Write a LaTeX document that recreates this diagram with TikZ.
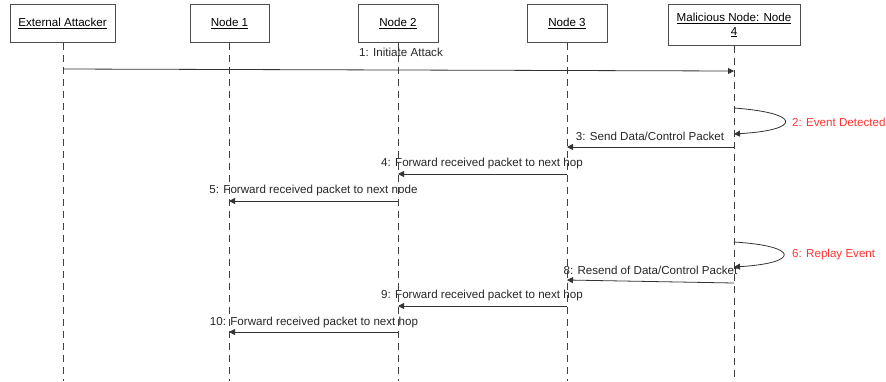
\documentclass[tikz,border=0pt]{standalone}
\usepackage{fontspec}
\setmainfont{Liberation Sans}
\usetikzlibrary{arrows.meta}
\begin{document}
\begin{tikzpicture}[x=1pt,y=-1pt,
  font=\fontsize{11.6}{13}\selectfont,
  actor/.style={draw=black!70,line width=0.8pt,fill=white,inner sep=0pt,align=center},
  life/.style={draw=black!75,line width=0.8pt,dash pattern=on 7pt off 5pt},
  msg/.style={draw=black!80,line width=0.8pt,-{Triangle[length=6pt,width=6pt]}},
  lbl/.style={text=black!85,inner sep=0pt},
  evt/.style={text=red!80!white,inner sep=0pt,anchor=west}]
\useasboundingbox (0,0) rectangle (886,381);
% actors
\node[actor,minimum width=105pt,minimum height=38pt] (ea) at (62.5,23.5) {\underline{External Attacker}};
\node[actor,minimum width=79pt,minimum height=38pt] (n1) at (229.5,23.5) {\underline{Node 1}};
\node[actor,minimum width=80pt,minimum height=38pt] (n2) at (398,23.5) {\underline{Node 2}};
\node[actor,minimum width=80pt,minimum height=38pt] (n3) at (567,23.5) {\underline{Node 3}};
\node[actor,minimum width=132pt,minimum height=41pt] (m4) at (734,25) {\underline{Malicious Node: Node}\\[1pt]\underline{4}};
% lifeline ends
\coordinate (eaE) at (63,381);
\coordinate (n1E) at (229,381);
\coordinate (n2E) at (398,381);
\coordinate (n3E) at (567,381);
\coordinate (m4E) at (734,381);
\draw[life] (ea.south -| eaE) -- (eaE);
\draw[life] (n1.south -| n1E) -- (n1E);
\draw[life] (n2.south -| n2E) -- (n2E);
\draw[life] (n3.south -| n3E) -- (n3E);
\draw[life] (m4.south -| m4E) -- (m4E);
% message points
\coordinate (a1) at (63,69);   \coordinate (b1) at (734,71);
\coordinate (a2) at (734,108); \coordinate (b2) at (734,134);
\coordinate (a3) at (734,147); \coordinate (b3) at (567,147);
\coordinate (a4) at (567,174); \coordinate (b4) at (398,174);
\coordinate (a5) at (398,201); \coordinate (b5) at (229,201);
\coordinate (a6) at (734,242); \coordinate (b6) at (734,267);
\coordinate (a8) at (734,283); \coordinate (b8) at (567,280);
\coordinate (a9) at (567,306); \coordinate (b9) at (398,306);
\coordinate (a10) at (398,332); \coordinate (b10) at (229,332);
% messages
\draw[msg] (a1) -- (b1);
\node[lbl] (l1) at (401,52) {1: Initiate Attack};
\draw[msg] (a2) .. controls (802,113) and (802,130) .. (b2);
\node[evt] (l2) at (792,122) {2: Event Detected};
\draw[msg] (a3) -- (b3);
\node[lbl] (l3) at (650,136) {3: Send Data/Control Packet};
\draw[msg] (a4) -- (b4);
\node[lbl] (l4) at (482,163) {4: Forward received packet to next hop};
\draw[msg] (a5) -- (b5);
\node[lbl] (l5) at (313.5,190) {5: Forward received packet to next node};
\draw[msg] (a6) .. controls (800,246) and (800,263) .. (b6);
\node[evt] (l6) at (792,254) {6: Replay Event};
\draw[msg] (a8) -- (b8);
\node[lbl] (l8) at (650.5,270) {8: Resend of Data/Control Packet};
\draw[msg] (a9) -- (b9);
\node[lbl] (l9) at (482,295) {9: Forward received packet to next hop};
\draw[msg] (a10) -- (b10);
\node[lbl] (l10) at (314,322) {10: Forward received packet to next hop};
\end{tikzpicture}
\end{document}
